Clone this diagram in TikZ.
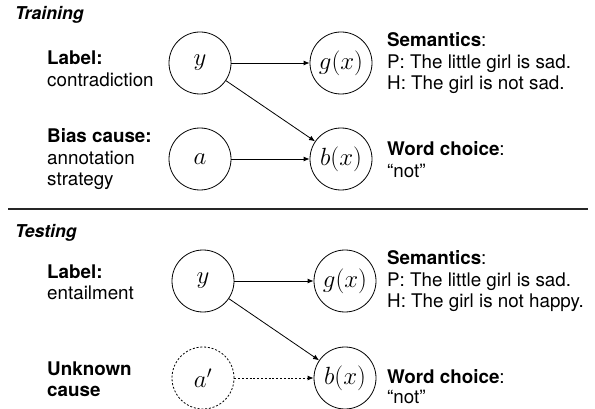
\documentclass[tikz,border=0pt]{standalone}
\usepackage{fontspec}
\setmainfont{TeX Gyre Heros}
\usetikzlibrary{arrows.meta}
\begin{document}
\begin{tikzpicture}[x=1pt,y=-1pt,
  var/.style={circle, draw, line width=0.8pt, minimum size=62pt, inner sep=0pt, font=\fontsize{23}{27}\selectfont},
  hidvar/.style={var, dash pattern=on 2pt off 1.8pt},
  txt/.style={anchor=base west, inner sep=0pt, font=\fontsize{18.8}{21.5}\selectfont},
  ttl/.style={anchor=base west, inner sep=0pt, font=\fontsize{17.7}{20}\selectfont\bfseries\itshape},
  edge/.style={-{Latex[length=6pt,width=5pt]}, line width=0.8pt},
  hidedge/.style={edge, dash pattern=on 2pt off 1.8pt}]
\useasboundingbox (0,0) rectangle (595,409);

% Training
\node[ttl] (trt) at (15,20) {Training};
\node[var] (y1) at (200,63) {$y$};
\node[var] (g1) at (341,63) {$g(x)$};
\node[var] (a1) at (200,159) {$a$};
\node[var] (b1) at (341,159) {$b(x)$};
\draw[edge] (y1) -- (g1);
\draw[edge] (y1) -- (b1);
\draw[edge] (a1) -- (b1);
\node[txt] (lab1) at (47,65) {\begin{tabular}[t]{@{}l@{}}\textbf{Label:}\\contradiction\end{tabular}};
\node[txt] (bias1) at (47,143) {\begin{tabular}[t]{@{}l@{}}\textbf{Bias cause:}\\annotation\\strategy\end{tabular}};
\node[txt] (sem1) at (387,47) {\begin{tabular}[t]{@{}l@{}}\textbf{Semantics}:\\P: The little girl is sad.\\H: The girl is not sad.\end{tabular}};
\node[txt] (wc1) at (387,156) {\begin{tabular}[t]{@{}l@{}}\textbf{Word choice}:\\“not”\end{tabular}};

% separator
\coordinate (sepl) at (8,209);
\coordinate (sepr) at (588,209);
\draw[line width=1.5pt, black!85] (sepl) -- (sepr);

% Testing
\node[ttl] (tet) at (15,237) {Testing};
\node[var] (y2) at (203,281) {$y$};
\node[var] (g2) at (345,281) {$g(x)$};
\node[hidvar] (a2) at (203,378) {$a'$};
\node[var] (b2) at (345,378) {$b(x)$};
\draw[edge] (y2) -- (g2);
\draw[edge] (y2) -- (b2);
\draw[hidedge] (a2) -- (b2);
\node[txt] (lab2) at (47,278) {\begin{tabular}[t]{@{}l@{}}\textbf{Label:}\\entailment\end{tabular}};
\node[txt] (unk2) at (47,375) {\begin{tabular}[t]{@{}l@{}}\textbf{Unknown}\\\textbf{cause}\end{tabular}};
\node[txt] (sem2) at (387,265) {\begin{tabular}[t]{@{}l@{}}\textbf{Semantics}:\\P: The little girl is sad.\\H: The girl is not happy.\end{tabular}};
\node[txt, font=\fontsize{18.8}{20}\selectfont] (wc2) at (387,383) {\begin{tabular}[t]{@{}l@{}}\textbf{Word choice}:\\“not”\end{tabular}};
\end{tikzpicture}
\end{document}
